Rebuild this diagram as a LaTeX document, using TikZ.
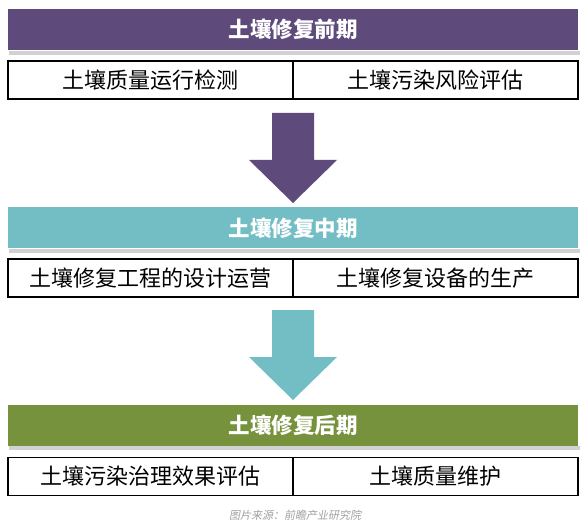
\documentclass[tikz,border=0pt]{standalone}
\usepackage{fontspec}
\setmainfont{Noto Sans CJK SC}
\newfontfamily\cjk{Noto Sans CJK SC}
\newfontfamily\cjkit[FakeSlant=0.2]{Noto Sans CJK SC}
\definecolor{purp}{HTML}{5E4A7B}
\definecolor{teal1}{HTML}{72BEC4}
\definecolor{olive}{HTML}{76923C}
\definecolor{capgray}{HTML}{A0A0A0}
\begin{document}
\begin{tikzpicture}[x=1pt,y=-1pt,
  banner/.style={fill=#1,draw=none,minimum width=570pt,minimum height=41pt,inner sep=0pt,
    font=\cjk\bfseries\fontsize{21.5}{21.5}\selectfont,text=white},
  cell/.style={draw=black,line width=1.3pt,fill=white,minimum width=285pt,minimum height=38pt,inner sep=0pt,
    font=\cjk\fontsize{22}{22}\selectfont,text=black}]
\useasboundingbox (0,0) rectangle (588,526);
% shadows
\fill[black!18] (9,51) rectangle (580,55);
\fill[black!18] (9,249) rectangle (580,253);
\fill[black!18] (9,446) rectangle (580,450);
% banners
\node[banner=purp] (b1) at (293,29.5) {土壤修复前期};
\node[banner=teal1] (b2) at (293,228) {土壤修复中期};
\node[banner=olive] (b3) at (293,425) {土壤修复后期};
% tables
\node[cell] (t1a) at (150.5,80) {土壤质量运行检测};
\node[cell] (t1b) at (435.5,80) {土壤污染风险评估};
\node[cell] (t2a) at (150.5,278) {土壤修复工程的设计运营};
\node[cell] (t2b) at (435.5,278) {土壤修复设备的生产};
\node[cell] (t3a) at (150.5,476.5) {土壤污染治理效果评估};
\node[cell] (t3b) at (435.5,476.5) {土壤质量维护};
% arrows
\fill[purp] (272,113) -- (314,113) -- (314,160) -- (337,160) -- (293,203) -- (249,160) -- (272,160) -- cycle;
\fill[teal1] (272,310) -- (314,310) -- (314,357) -- (337,357) -- (293,400) -- (249,357) -- (272,357) -- cycle;
% caption
\node[font=\cjkit\fontsize{11}{11}\selectfont,text=capgray] (cap) at (295,515) {图片来源：前瞻产业研究院};
\end{tikzpicture}
\end{document}
